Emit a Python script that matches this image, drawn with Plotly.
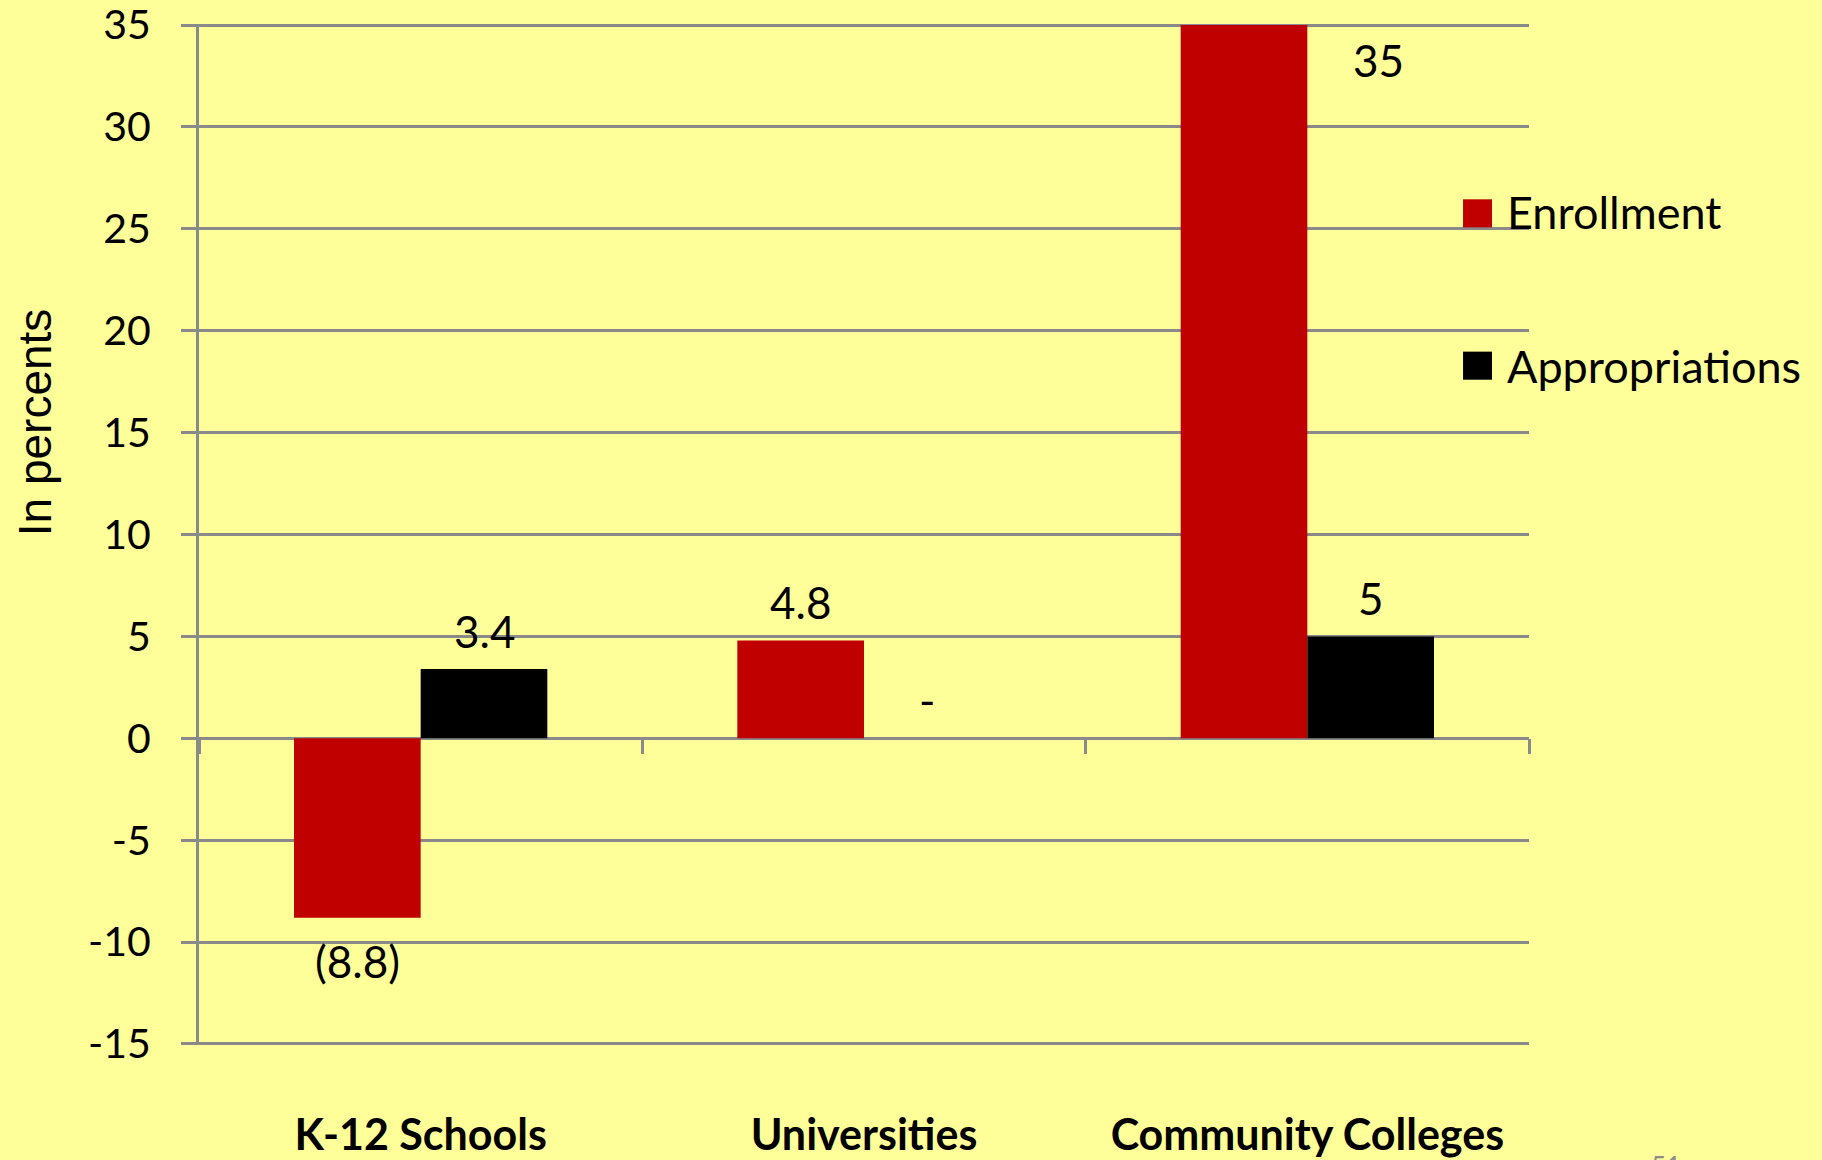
import plotly.graph_objects as go

# ---------------- data ----------------
categories = ["K-12 Schools", "Universities", "Community Colleges"]
enrollment = [-8.8, 4.8, 35]
appropriations = [3.4, 0, 5]
series_names = ["Enrollment", "Appropriations"]
y_tickvals = [-15, -10, -5, 0, 5, 10, 15, 20, 25, 30, 35]
y_ticktext = ["-15", "-10", "-5", "0", "5", "10", "15", "20", "25", "30", "35"]
y_title = "In percents"
page_number = "51"

# ---------------- style ----------------
RED = "#C00000"
BLACK = "#000000"
BG = "#FFFF99"
GRID = "#8A8A8A"
FONT = "Lato, 'Open Sans', sans-serif"
Y_MIN, Y_MAX = -15, 35
PADR = 0.05  # tiny range padding so end gridlines/labels are drawn
R0, R1 = Y_MIN - PADR, Y_MAX + PADR
BARGAP = 1.5 / 3.5


def fmt(v):
    if v == 0:
        return "-"
    if v < 0:
        return f"({abs(v):g})"
    return f"{v:g}"


fig = go.Figure()
colors = [RED, BLACK]
for name, vals, col in zip(series_names, [enrollment, appropriations], colors):
    fig.add_trace(go.Bar(
        name=name, x=categories, y=vals,
        marker=dict(color=col, line=dict(width=0)),
        showlegend=False, hoverinfo="x+y+name",
    ))

# data labels
half = (1 - BARGAP) / 4
annotations = []
for s, vals in enumerate([enrollment, appropriations]):
    off = -half if s == 0 else half
    for i, v in enumerate(vals):
        x = i + off
        xsh = 0
        if v >= Y_MAX:
            x = i + half
            xsh = 8
            ysh = -35
        elif v < 0:
            ysh = -43
        else:
            ysh = 38
        annotations.append(dict(
            x=x, y=v, xref="x", yref="y", text=fmt(v), showarrow=False,
            xanchor="center", yanchor="middle", yshift=ysh, xshift=xsh,
            font=dict(family=FONT, size=44, color=BLACK),
        ))

# legend (text)
legend_y = [0.8155, 0.6654]
for name, ly in zip(series_names, legend_y):
    annotations.append(dict(
        x=0.982, y=ly, xref="paper", yref="paper", text=name, showarrow=False,
        xanchor="left", yanchor="middle",
        font=dict(family=FONT, size=45, color=BLACK),
    ))

# y-axis title
annotations.append(dict(
    x=-0.1233, y=0.610, xref="paper", yref="paper", text=y_title,
    showarrow=False, textangle=-90, xanchor="center", yanchor="middle",
    font=dict(family="'Liberation Sans', Arial, sans-serif", size=46, color=BLACK),
))

# page number (partly cut off at bottom, as in the slide)
annotations.append(dict(
    x=1.103, y=-0.101, xref="paper", yref="paper", text=page_number,
    showarrow=False, xanchor="center", yanchor="top",
    font=dict(family=FONT, size=26, color="#8C8C8C"),
))

shapes = []
sq = [(0.8008, 0.8283), (0.6516, 0.6791)]
for col, (y0, y1) in zip(colors, sq):
    shapes.append(dict(type="rect", xref="paper", yref="paper",
                       x0=0.9504, x1=0.9722, y0=y0, y1=y1,
                       fillcolor=col, line=dict(width=0)))

fig.update_layout(
    width=1822, height=1160, autosize=False,
    margin=dict(l=199, r=293, t=24, b=115, pad=0, autoexpand=False),
    paper_bgcolor=BG, plot_bgcolor=BG,
    barmode="group", bargap=BARGAP, bargroupgap=0,
    annotations=annotations, shapes=shapes,
    font=dict(family=FONT, color=BLACK),
    xaxis=dict(
        type="category", anchor="free", position=(0 - R0) / (R1 - R0),
        automargin=False,
        showgrid=False, zeroline=False, showline=False,
        ticks="outside", tickson="boundaries", ticklen=15, tickwidth=3,
        tickcolor=GRID, ticklabelstandoff=368,
        tickfont=dict(family=FONT, size=43, color=BLACK, weight="bold"),
    ),
    yaxis=dict(
        range=[R0, R1], tickmode="array", tickvals=y_tickvals,
        ticktext=y_ticktext, ticklabeloverflow="allow", automargin=False,
        showgrid=True, gridcolor=GRID, gridwidth=3,
        zeroline=True, zerolinecolor=GRID, zerolinewidth=3,
        showline=True, linecolor=GRID, linewidth=3,
        ticks="outside", ticklen=15, tickwidth=3, tickcolor=GRID,
        ticklabelstandoff=22,
        tickfont=dict(family=FONT, size=41, color=BLACK),
    ),
)

fig.write_html(
    "out.html",
    config={"displayModeBar": False},
    post_script="document.body.style.margin='0';document.body.style.overflow='hidden';",
)
